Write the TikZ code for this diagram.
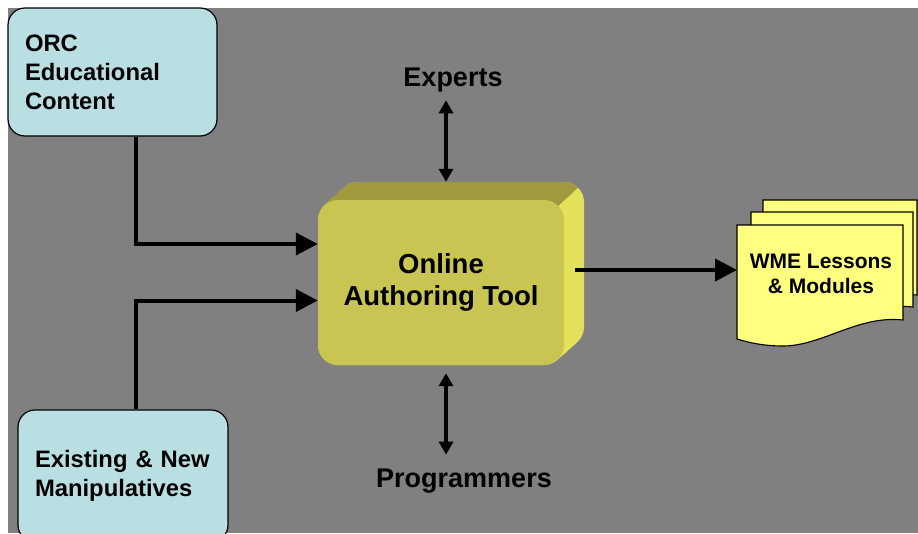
\documentclass[tikz,border=0pt]{standalone}
\usepackage{fontspec}
\setmainfont{Liberation Sans}
\usetikzlibrary{positioning,arrows.meta,calc}

\definecolor{bggray}{HTML}{808080}
\definecolor{boxcyan}{HTML}{B9DFE3}
\definecolor{toolfront}{HTML}{C8C552}
\definecolor{tooltop}{HTML}{9F9A3D}
\definecolor{toolside}{HTML}{E3E05A}
\definecolor{sheetyellow}{HTML}{FFFF80}

\tikzset{
	srcbox/.style={draw=black, line width=1.2pt, fill=boxcyan, rounded corners=17pt, align=left,
		inner xsep=17pt, inner ysep=0pt, text width=175pt, minimum height=128pt,
		font=\bfseries\fontsize{23.8}{29}\selectfont},
	toolface/.style={fill=toolfront, rounded corners=20pt, minimum width=246pt, minimum height=165pt,
		align=center, font=\bfseries\fontsize{27.5}{32}\selectfont},
	actor/.style={inner sep=4pt, font=\bfseries\fontsize{27}{30}\selectfont},
	sheetdoc/.style={draw=black, line width=1.1pt, fill=sheetyellow},
	flow/.style={line width=4pt, -{Triangle[length=22pt,width=22pt]}},
	twoway/.style={line width=4pt, {Triangle[length=13pt,width=14pt]}-{Triangle[length=13pt,width=14pt]}},
}

\begin{document}
\begin{tikzpicture}[x=1pt,y=-1pt]
	\useasboundingbox (0,0) rectangle (918,533);
	\clip (0,0) rectangle (918,533);

	% backdrop
	\fill[bggray] (8,8) rectangle (918,533);

	% tool block: extruded body, side face then top face
	\coordinate (toolc) at (441,282.5);
	\foreach \s in {0,1,...,20}
		\fill[toolside, rounded corners=20pt] ($(toolc)+(-123+\s,-82.5-0.9*\s)$) rectangle ++(246,165);
	\begin{scope}
		\clip (604,164) -- (524,236) -- (300,236) -- (300,164) -- cycle;
		\foreach \s in {0,1,...,20}
			\fill[tooltop, rounded corners=20pt] ($(toolc)+(-123+\s,-82.5-0.9*\s)$) rectangle ++(246,165);
	\end{scope}
	\node[toolface] (tool) at (toolc) {Online\\Authoring Tool};

	% sources
	\node[srcbox] (orc) at (112.5,72) {ORC\\Educational\\Content};
	\node[srcbox, text width=176pt, minimum height=132pt] (manip) at (123,476) {Existing \& New\\Manipulatives};

	\draw[flow] ([xshift=23pt]orc.south) |- ([yshift=38.5pt]tool.west);
	\draw[flow] ([xshift=12.5pt]manip.north) |- ([yshift=-18pt]tool.west);

	% people
	\node[actor] (experts) at (453,80) {Experts};
	\node[actor] (progs) at (464,481.5) {Programmers};
	\draw[twoway, shorten <=4pt] ([xshift=5pt]tool.north |- experts.south) -- ([xshift=5pt,yshift=18pt]tool.north);
	\draw[twoway, shorten <=8pt, shorten >=10.5pt] ([xshift=5pt]tool.south) -- ([xshift=5pt]tool.south |- progs.north);

	% output pages
	\foreach \l/\t/\w in {763/200/154, 751/212/162, 737/225/166}
		\filldraw[sheetdoc] (\l,\t) -- (\l+\w,\t) -- (\l+\w,\t+95)
			.. controls (\l+\w-45,\t+90) and (\l+85,\t+121) .. (\l+46,\t+121)
			.. controls (\l+25,\t+121) and (\l+10,\t+117) .. (\l,\t+114) -- cycle;
	\node[font=\bfseries\fontsize{21}{25}\selectfont, align=center] (wme) at (821,274) {WME Lessons\\\& Modules};
	\coordinate (wmein) at (737,270);
	\draw[flow] ([xshift=11pt,yshift=12.5pt]tool.east) -- (wmein);

\end{tikzpicture}
\end{document}
